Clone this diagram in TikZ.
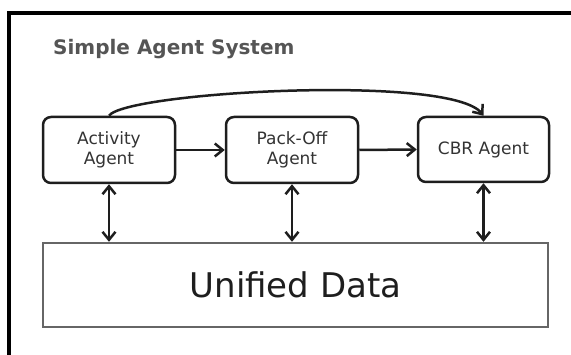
\documentclass[tikz,border=0pt]{standalone}
\usepackage{fontspec}
\setmainfont{DejaVu Sans}
\usetikzlibrary{arrows.meta,shadows,calc}
\definecolor{ink}{HTML}{1E1E1E}
\definecolor{txt}{HTML}{333333}
\definecolor{titlegray}{HTML}{555555}
\definecolor{datagray}{HTML}{666666}
\tikzset{
  agent/.style={draw=ink, line width=2.5pt, rounded corners=8pt, fill=white,
    minimum width=132pt, minimum height=66pt, inner sep=0pt, align=center,
    text=txt, font=\fontsize{17}{20}\selectfont},
  store/.style={draw=datagray, line width=2.4pt, fill=white,
    minimum width=505pt, minimum height=84pt, inner sep=0pt,
    text=ink, font=\fontsize{34}{40}\selectfont,
    drop shadow={shadow xshift=1.2pt, shadow yshift=-1.2pt, opacity=0.25}},
  link/.style={draw=ink, line width=2.5pt, arrows={-Straight Barb[length=8pt,width=13pt,line width=2.5pt]}},
  duplex/.style={draw=ink, line width=2.5pt,
    arrows={Straight Barb[length=8pt,width=13pt,line width=2.5pt]-Straight Barb[length=8pt,width=13pt,line width=2.5pt]}},
  frameline/.style={draw=black, line width=3.2pt}
}
\begin{document}
\begin{tikzpicture}[x=1pt,y=-1pt]
  \useasboundingbox (0,0) rectangle (571,355);
  \fill[white] (0,0) rectangle (571,355);

  % outer frame (top and left edges)
  \draw[frameline] (9,355) -- (9,13) -- (571,13);

  % heading
  \node[anchor=base west, inner sep=0pt, text=titlegray,
        font=\fontsize{20}{24}\selectfont\bfseries] (title) at (53,55) {Simple Agent System};

  % agents
  \node[agent] (act)  at (109,150)   {Activity\\Agent};
  \node[agent] (pack) at (292,150)   {Pack-Off\\Agent};
  \node[agent, minimum width=131pt, minimum height=65pt] (cbr) at (483.5,149.5) {CBR Agent};

  % shared data store
  \node[store] (data) at (295.5,285) {Unified Data};

  % agent-to-agent flow
  \draw[link] (act.east) -- (pack.west);
  \draw[link] (pack.east) -- (cbr.west);
  \draw[link] (act.north) .. controls +(17,-24) and +(-32,-42) .. (cbr.north);

  % agent <-> data exchanges
  \draw[duplex] (act.south) -- (act.south |- data.north);
  \draw[duplex] (pack.south) -- (pack.south |- data.north);
  \draw[duplex] (cbr.south) -- (cbr.south |- data.north);
\end{tikzpicture}
\end{document}
